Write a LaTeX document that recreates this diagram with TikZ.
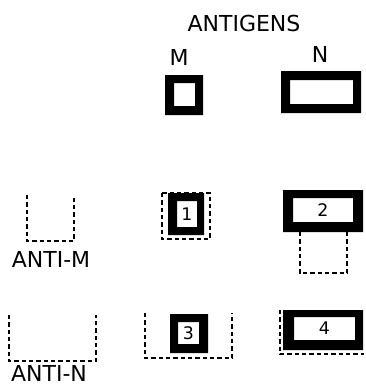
\documentclass[tikz,border=0pt]{standalone}
\usepackage{fontspec}
\setmainfont{DejaVu Sans}
\begin{document}
\begin{tikzpicture}[x=0.75pt,y=-0.75pt,
  lbl/.style={inner sep=0pt,font=\fontsize{16.5}{16.5}\selectfont},
  num/.style={inner sep=0pt,font=\fontsize{13}{13}\selectfont},
  dsh/.style={line width=1.8pt,dash pattern=on 3.3pt off 2.2pt},
  blk/.style={fill=black,even odd rule}]
\useasboundingbox (0,0) rectangle (365,386);
% labels
\node[lbl] (antigens) at (244,23) {ANTIGENS};
\node[lbl] (mlab) at (179,57) {M};
\node[lbl] (nlab) at (320,54) {N};
\node[lbl] (antim) at (51,259) {ANTI-M};
\node[lbl] (antin) at (49,373) {ANTI-N};
% antigen M and N
\path[blk] (165,75) rectangle (203,115) (174,83) rectangle (195,106);
\path[blk] (281,71) rectangle (361,113) (290,80) rectangle (353,104);
% anti-M
\draw[dsh] (27,195) -- (27,241) -- (74,241) -- (74,195);
% anti-N
\draw[dsh] (9,315) -- (9,361) -- (96,361) -- (96,315);
% 1
\path[blk] (168,193) rectangle (204,235) (177,201) rectangle (197,227);
\draw[dsh] (162,193) rectangle (210,239);
\node[num] (n1) at (187,214) {1};
% 2
\path[blk] (283,190) rectangle (363,232) (293,198) rectangle (353,222);
\draw[dsh] (300,232) -- (300,273) -- (347,273) -- (347,232);
\node[num] (n2) at (323,210) {2};
% 3
\path[blk] (170,314) rectangle (208,353) (178,322) rectangle (199,344);
\draw[dsh] (145,313) -- (145,358) -- (232,358) -- (232,313);
\node[num] (n3) at (188.5,333) {3};
% 4
\path[blk] (283,310) rectangle (363,350) (294,317) rectangle (355,340);
\draw[dsh] (280,310) -- (280,354) -- (364,354);
\node[num] (n4) at (324.5,328.5) {4};
\end{tikzpicture}
\end{document}
